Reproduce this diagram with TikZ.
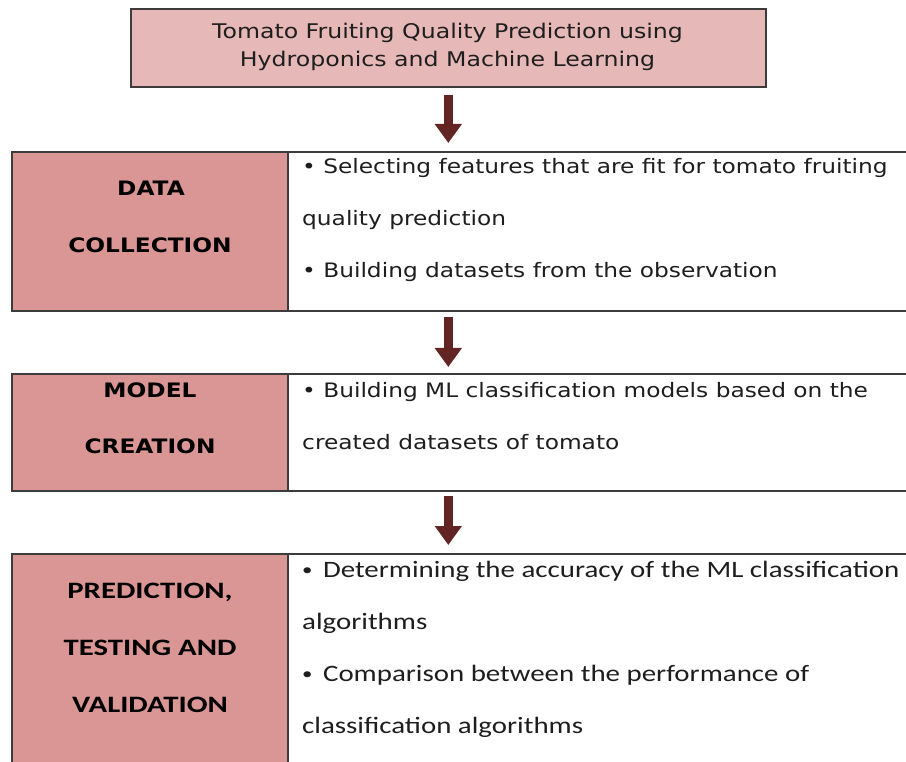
\documentclass[tikz,border=0pt]{standalone}
\usepackage{fontspec}
\setmainfont{DejaVu Sans}[FakeStretch=1.17]
\newfontfamily\calib{Carlito}[FakeStretch=1.23]
\newfontfamily\calibb{Carlito}[FakeStretch=1.31, UprightFont=*-Bold]
\usetikzlibrary{arrows.meta}
\definecolor{toppink}{HTML}{E6B8B7}
\definecolor{labpink}{HTML}{DA9694}
\definecolor{arrowred}{HTML}{632523}
\definecolor{edgecol}{HTML}{3C3C3C}
\definecolor{txt}{HTML}{1E1E1E}
\newcommand{\smallbul}{\raisebox{1.2pt}{\scalebox{0.72}{•}}\kern4pt}
\tikzset{
  cellbox/.style={draw=edgecol, line width=1.6pt, rectangle, inner sep=0pt, anchor=north west},
  labtext/.style={font=\fontsize{19.9}{20}\selectfont\bfseries, text=black, inner sep=0pt, anchor=base},
  titletext/.style={font=\fontsize{20.2}{28}\selectfont, text=txt, inner sep=0pt, anchor=base},
  bodytext/.style={font=\fontsize{19.9}{20}\selectfont, text=txt, inner sep=0pt, anchor=base west},
  calibtext/.style={font=\calib\fontsize{23.5}{24}\selectfont, text=txt, inner sep=0pt, anchor=base west},
  caliblab/.style={font=\calibb\fontsize{23.5}{24}\selectfont, text=black, inner sep=0pt, anchor=base},
  bigarrow/.style={draw=arrowred, line width=9pt, -{Triangle[width=26pt,length=19pt]}, arrowred}
}
\begin{document}
\begin{tikzpicture}[x=1pt,y=-1pt]
\useasboundingbox (0,0) rectangle (906,762);
\fill[white] (0,0) rectangle (906,762);
\clip (0,0) rectangle (906,762);

% title
\node[cellbox, fill=toppink, minimum width=635pt, minimum height=78pt] (title) at (130,8) {};
\node[titletext] (t1) at (447.5,39) {Tomato Fruiting Quality Prediction using};
\node[titletext] (t2) at (447.5,67) {Hydroponics and Machine Learning};

% row 1
\node[cellbox, fill=labpink, minimum width=276pt, minimum height=159pt] (l1) at (11,151) {};
\node[cellbox, fill=white, minimum width=660pt, minimum height=159pt] (r1) at (287,151) {};
\node[labtext] (l1a) at (151,196) {DATA};
\node[labtext] (l1b) at (150,253) {COLLECTION};
\node[bodytext] (r1a) at (302,174) {• Selecting features that are fit for tomato fruiting};
\node[bodytext] (r1b) at (302,226) {quality prediction};
\node[bodytext] (r1c) at (302,278) {• Building datasets from the observation};

% row 2
\node[cellbox, fill=labpink, minimum width=276pt, minimum height=117pt] (l2) at (11,373) {};
\node[cellbox, fill=white, minimum width=660pt, minimum height=117pt] (r2) at (287,373) {};
\node[labtext] (l2a) at (150,397) {MODEL};
\node[labtext] (l2b) at (150,453) {CREATION};
\node[bodytext] (r2a) at (302,397) {• Building ML classification models based on the};
\node[bodytext] (r2b) at (302,449) {created datasets of tomato};

% row 3
\node[cellbox, fill=labpink, minimum width=276pt, minimum height=260pt] (l3) at (11,553) {};
\node[cellbox, fill=white, minimum width=660pt, minimum height=260pt] (r3) at (287,553) {};
\node[caliblab] (l3a) at (150,598) {PREDICTION,};
\node[caliblab] (l3b) at (150,655) {TESTING AND};
\node[caliblab] (l3c) at (150,712) {VALIDATION};
\node[calibtext] (r3a) at (302,577) {\smallbul{} Determining the accuracy of the ML classification};
\node[calibtext] (r3b) at (302,629) {algorithms};
\node[calibtext] (r3c) at (302,681) {\smallbul{} Comparison between the performance of};
\node[calibtext] (r3d) at (302,733) {classification algorithms};

% arrows
\draw[bigarrow, shorten <=7pt, shorten >=8pt] (title.south) -- (title.south |- l1.north);
\draw[bigarrow, shorten <=5pt, shorten >=6pt] (title.south |- l1.south) -- (title.south |- l2.north);
\draw[bigarrow, shorten <=4pt, shorten >=8pt] (title.south |- l2.south) -- (title.south |- l3.north);
\end{tikzpicture}
\end{document}
